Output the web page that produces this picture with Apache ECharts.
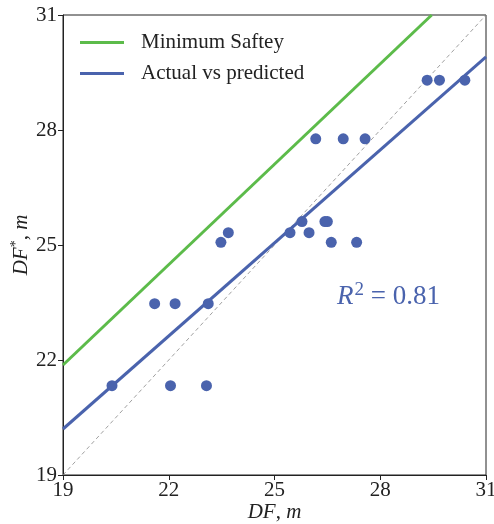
<!DOCTYPE html>
<html><head><meta charset="utf-8">
<script src="https://cdn.jsdelivr.net/npm/echarts@6/dist/echarts.min.js"></script>
<style>html,body{margin:0;padding:0;background:#fff}#c{width:494px;height:524px}</style>
</head><body><div id="c"></div>
<script>
const actual = [20.39, 22.05, 23.07, 21.6, 22.18, 23.12, 23.48, 23.69, 26.17, 26.95, 27.57, 25.78, 25.44, 25.98, 26.43, 26.5, 26.61, 27.33, 29.33, 29.68, 30.40];
const predicted = [21.33, 21.33, 21.33, 23.47, 23.47, 23.47, 25.07, 25.32, 27.77, 27.77, 27.77, 25.61, 25.32, 25.32, 25.61, 25.61, 25.07, 25.07, 29.3, 29.3, 29.3];
const minSafetyLine = [[19, 21.87], [29.46, 31]];
const fitLine = [[19, 20.2], [31, 29.91]];
const identityLine = [[19, 19], [31, 31]];
const ticks = [19, 22, 25, 28, 31];
const r2Text = '0.81';

const FONT = '"Liberation Serif", "DejaVu Serif", serif';
const BLUE = '#4a63ad';
const GREEN = '#5cbb4a';
const FS = 21;
const chart = echarts.init(document.getElementById('c'), null, {renderer: 'canvas'});
chart.setOption({
  animation: false,
  backgroundColor: '#fff',
  grid: {left: 63, right: 8, top: 15, bottom: 49, show: true, borderColor: '#222', borderWidth: 1,
         containLabel: false, outerBoundsMode: 'none'},
  legend: {
    orient: 'vertical', left: 80, top: 32, itemGap: 10, padding: 0,
    itemWidth: 44, itemHeight: 3, icon: 'rect',
    data: ['Minimum Saftey', 'Actual vs predicted'],
    textStyle: {fontFamily: FONT, fontSize: FS, color: '#222', padding: [0, 0, 0, 12]}
  },
  xAxis: {
    type: 'value', min: ticks[0], max: ticks[ticks.length - 1], interval: 3,
    name: '{i|DF}, {i|m}', nameLocation: 'middle', nameGap: 27, nameMoveOverlap: false,
    nameTextStyle: {fontFamily: FONT, fontSize: FS, color: '#222', rich: {i: {fontFamily: FONT, fontStyle: 'italic', fontSize: FS, color: '#222'}}},
    axisLine: {show: true, lineStyle: {color: '#222', width: 1}},
    axisTick: {show: true, length: 5, lineStyle: {color: '#222'}},
    axisLabel: {fontFamily: FONT, fontSize: FS, color: '#222', margin: 5},
    splitLine: {show: false}
  },
  yAxis: {
    type: 'value', min: ticks[0], max: ticks[ticks.length - 1], interval: 3,
    name: '{i|DF}{s|*}, {i|m}', nameLocation: 'middle', nameGap: 30, nameRotate: 90, nameMoveOverlap: false,
    nameTextStyle: {fontFamily: FONT, fontSize: FS, color: '#222', rich: {
      i: {fontFamily: FONT, fontStyle: 'italic', fontSize: FS, color: '#222'},
      s: {fontFamily: FONT, fontSize: 14, color: '#222', verticalAlign: 'top', padding: [0, 0, 10, 0]}}},
    axisLine: {show: true, lineStyle: {color: '#222', width: 1}},
    axisTick: {show: true, length: 5, lineStyle: {color: '#222'}},
    axisLabel: {fontFamily: FONT, fontSize: FS, color: '#222', margin: 6},
    splitLine: {show: false}
  },
  series: [
    {name: 'identity', type: 'line', data: identityLine, showSymbol: false, silent: true,
     lineStyle: {color: '#888', width: 0.8, type: [4, 3]}, z: 1},
    {name: 'Minimum Saftey', type: 'line', data: minSafetyLine, showSymbol: false,
     itemStyle: {color: GREEN}, lineStyle: {color: GREEN, width: 3}, z: 2},
    {name: 'Actual vs predicted', type: 'line', data: fitLine, showSymbol: false,
     itemStyle: {color: BLUE}, lineStyle: {color: BLUE, width: 3}, z: 2},
    {name: 'points', type: 'scatter', data: actual.map((a, i) => [a, predicted[i]]),
     symbolSize: 11, itemStyle: {color: BLUE, opacity: 1}, z: 3}
  ],
  graphic: [{
    type: 'text', left: 337, top: 281, z: 10,
    style: {
      text: '{r|R}{s|2}{t| = ' + r2Text + '}',
      rich: {
        r: {fontFamily: FONT, fontStyle: 'italic', fontSize: 27, fill: BLUE},
        s: {fontFamily: FONT, fontSize: 19, fill: BLUE, verticalAlign: 'top', padding: [0, 0, 12, 1]},
        t: {fontFamily: FONT, fontSize: 27, fill: BLUE}
      }
    }
  }]
});
</script></body></html>
